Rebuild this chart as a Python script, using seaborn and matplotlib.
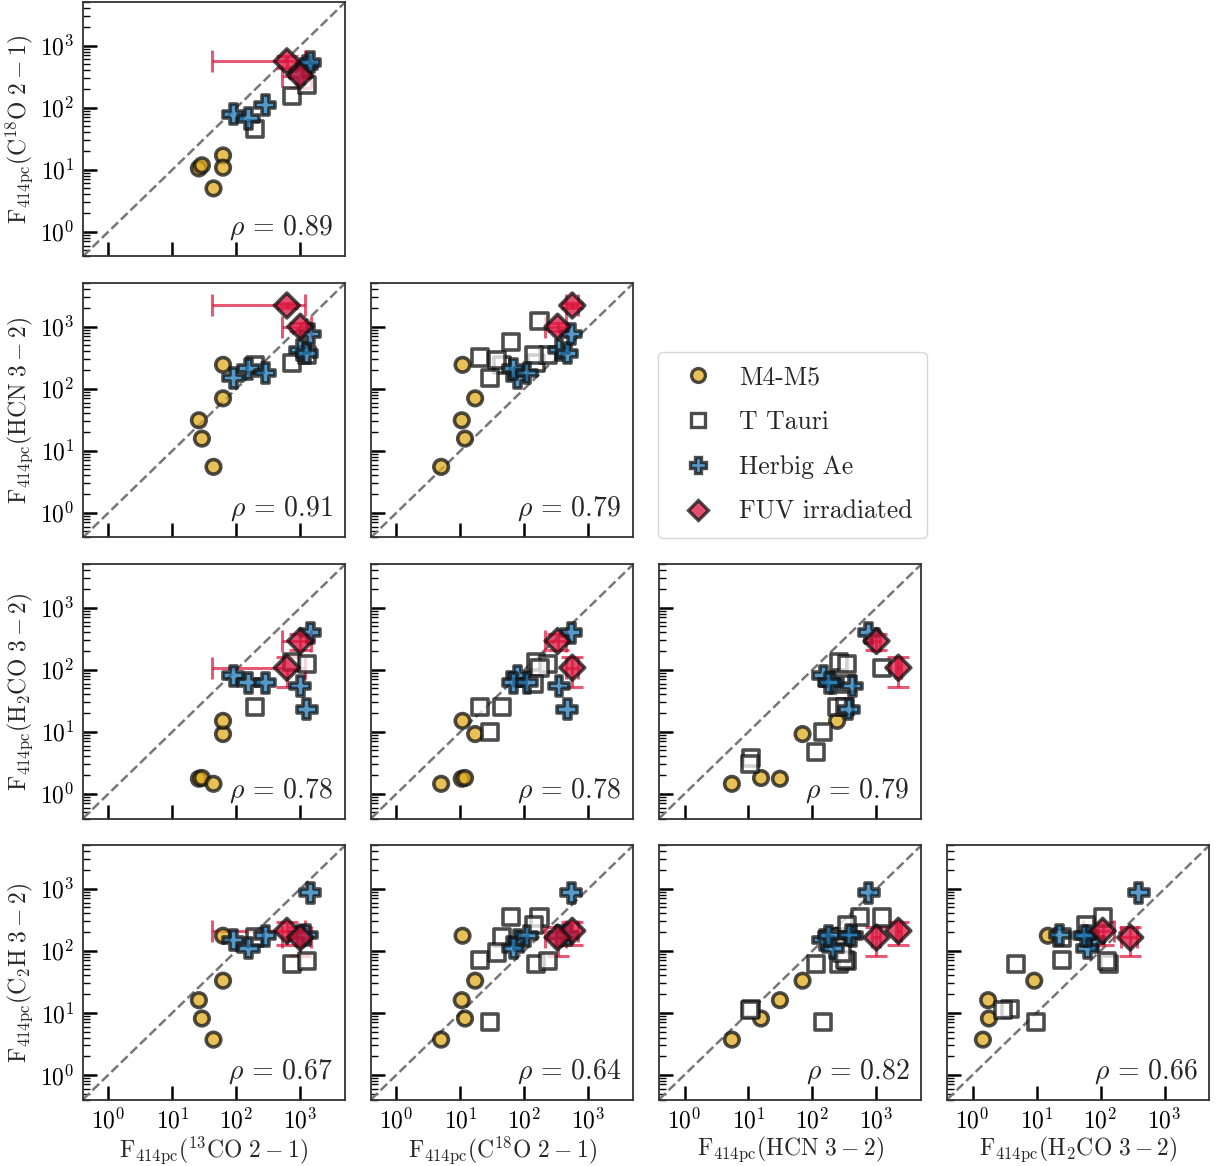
import numpy as np
import pandas as pd
import matplotlib
matplotlib.use("Agg")
import matplotlib.pyplot as plt
from matplotlib.lines import Line2D
from matplotlib.ticker import LogLocator, NullFormatter, FixedLocator, FixedFormatter
import seaborn as sns

# ---- line fluxes scaled to 414 pc (one entry per source) ----
line_keys = ["13co", "c18o", "hcn", "h2co", "c2h"]
axis_labels = [
    r"$\mathrm{F}_{414\mathrm{pc}}({}^{13}\mathrm{CO}\ 2-1)$",
    r"$\mathrm{F}_{414\mathrm{pc}}(\mathrm{C}^{18}\mathrm{O}\ 2-1)$",
    r"$\mathrm{F}_{414\mathrm{pc}}(\mathrm{HCN}\ 3-2)$",
    r"$\mathrm{F}_{414\mathrm{pc}}(\mathrm{H}_2\mathrm{CO}\ 3-2)$",
    r"$\mathrm{F}_{414\mathrm{pc}}(\mathrm{C}_2\mathrm{H}\ 3-2)$",
]
tick_values = [1, 10, 100, 1000]
tick_labels = [r"$10^{0}$", r"$10^{1}$", r"$10^{2}$", r"$10^{3}$"]

groups = ["M4-M5", "T Tauri", "Herbig Ae", "FUV irradiated"]

# M4-M5 stars
m45_13co = [62, 62, 26, 29, 44]
m45_c18o = [17, 10.8, 10.5, 11.8, 5.0]
m45_hcn = [70, 243, 31, 15.7, 5.5]
m45_h2co = [9.2, 15, 1.75, 1.8, 1.45]
m45_c2h = [33, 175, 16, 8.1, 3.7]

# T Tauri stars
nan = np.nan
tt_13co = [197, 740, 1260, nan, nan, nan, nan, nan, nan, nan, nan, nan]
tt_c18o = [45, 153, 236, nan, nan, 29, nan, 20, 37, 62, 172, 140]
tt_hcn = [245, 259, 350, 11, 10.5, 147, 113, 319, 293, 560, 1240, 350]
tt_h2co = [25, 135, 125, 3.8, 3.0, 9.8, 4.8, 25, nan, nan, 108, 59]
tt_c2h = [164, 62, 68, 11.5, 11, 7.1, 62, 70, 94, 355, 344, 260]

# Herbig Ae stars
hae_13co = [90, 155, 283, 1000, 1260, 1430]
hae_c18o = [78, 67, 110, 346, 468, 540]
hae_hcn = [149, 210, 179, 420, 374, 760]
hae_h2co = [80, 62, 62, 55, 23, 395]
hae_c2h = [150, 110, 175, 175, 180, 865]

# FUV irradiated discs, with 1-sigma uncertainties
fuv_13co = [617, 1000]
fuv_c18o = [560, 330]
fuv_hcn = [2200, 1000]
fuv_h2co = [108, 291]
fuv_c2h = [210, 164]
fuv_13co_err = [575, 480]
fuv_c18o_err = [120, 120]
fuv_hcn_err = [200, 150]
fuv_h2co_err = [55, 85]
fuv_c2h_err = [85, 80]

# Spearman coefficients for each (row, col) panel
rho_values = {
    (0, 0): 0.89,
    (1, 0): 0.91, (1, 1): 0.79,
    (2, 0): 0.78, (2, 1): 0.78, (2, 2): 0.79,
    (3, 0): 0.67, (3, 1): 0.64, (3, 2): 0.82, (3, 3): 0.66,
}

def group_frame(name, cols):
    d = dict(zip(line_keys, cols))
    d["group"] = name
    return pd.DataFrame(d)

df = pd.concat([
    group_frame("M4-M5", [m45_13co, m45_c18o, m45_hcn, m45_h2co, m45_c2h]),
    group_frame("T Tauri", [tt_13co, tt_c18o, tt_hcn, tt_h2co, tt_c2h]),
    group_frame("Herbig Ae", [hae_13co, hae_c18o, hae_hcn, hae_h2co, hae_c2h]),
    group_frame("FUV irradiated", [fuv_13co, fuv_c18o, fuv_hcn, fuv_h2co, fuv_c2h]),
], ignore_index=True)

fuv_err = dict(zip(line_keys, [fuv_13co_err, fuv_c18o_err, fuv_hcn_err,
                               fuv_h2co_err, fuv_c2h_err]))

# ---- style ----
sns.set_theme(style="white")
plt.rcParams["font.family"] = ["cmr10", "DejaVu Serif"]
plt.rcParams["mathtext.fontset"] = "cm"
plt.rcParams["axes.unicode_minus"] = False
plt.rcParams["axes.formatter.use_mathtext"] = True

palette = {"M4-M5": "#E0AB20", "T Tauri": "white",
           "Herbig Ae": "#1f77b4", "FUV irradiated": "crimson"}
markers = {"M4-M5": "o", "T Tauri": "s", "Herbig Ae": "P", "FUV irradiated": "D"}
sizes = {"M4-M5": 110, "T Tauri": 135, "Herbig Ae": 210, "FUV irradiated": 160}
edge = "#111111"
alpha = 0.75
lim = (0.4, 5000)

fig = plt.figure(figsize=(12.19, 11.66), dpi=100)
gs = fig.add_gridspec(4, 4, left=0.068, right=0.992, top=0.998, bottom=0.057,
                      wspace=0.099, hspace=0.106)

for r in range(4):
    for c in range(r + 1):
        ax = fig.add_subplot(gs[r, c])
        xk = line_keys[c]
        yk = line_keys[r + 1]
        ax.set_xscale("log")
        ax.set_yscale("log")
        ax.set_xlim(*lim)
        ax.set_ylim(*lim)
        ax.plot(lim, lim, ls="--", color="#777777", lw=1.8, zorder=1)

        fx = np.array(df.loc[df.group == "FUV irradiated", xk], dtype=float)
        fy = np.array(df.loc[df.group == "FUV irradiated", yk], dtype=float)
        ax.errorbar(fx, fy, xerr=fuv_err[xk], yerr=fuv_err[yk], fmt="none",
                    ecolor="crimson", alpha=0.7, elinewidth=2.2, capsize=8,
                    capthick=2.2, zorder=2)

        sns.scatterplot(data=df, x=xk, y=yk, hue="group", style="group",
                        size="group", hue_order=groups, style_order=groups,
                        size_order=groups, palette=palette, markers=markers,
                        sizes=sizes, edgecolor=edge, linewidth=2.6,
                        alpha=alpha, legend=False, ax=ax, zorder=3)

        ax.text(0.955, 0.055, r"$\rho\,=\,%.2f$" % rho_values[(r, c)],
                transform=ax.transAxes, ha="right", va="bottom", fontsize=20)

        ax.xaxis.set_major_locator(FixedLocator(tick_values))
        ax.yaxis.set_major_locator(FixedLocator(tick_values))
        ax.xaxis.set_minor_locator(LogLocator(base=10, subs=np.arange(2, 10)))
        ax.yaxis.set_minor_locator(LogLocator(base=10, subs=np.arange(2, 10)))
        ax.xaxis.set_minor_formatter(NullFormatter())
        ax.yaxis.set_minor_formatter(NullFormatter())
        ax.tick_params(which="major", direction="in", length=10, width=1.8,
                       left=True, bottom=True, top=False, right=False,
                       labelsize=17, colors="black", pad=6)
        ax.tick_params(which="minor", direction="in", length=5, width=1.0,
                       left=True, bottom=True, top=False, right=False,
                       colors="black")
        for s in ax.spines.values():
            s.set_color("#333333")
            s.set_linewidth(1.3)

        if r == 3:
            ax.xaxis.set_major_formatter(FixedFormatter(tick_labels))
            ax.set_xlabel(axis_labels[c], fontsize=17, labelpad=1)
        else:
            ax.set_xticklabels([])
            ax.set_xlabel("")
        if c == 0:
            ax.yaxis.set_major_formatter(FixedFormatter(tick_labels))
            ax.set_ylabel(axis_labels[r + 1], fontsize=17, labelpad=4)
        else:
            ax.set_yticklabels([])
            ax.set_ylabel("")

handles = [
    Line2D([], [], ls="none", marker=markers[g], markersize=ms,
           markerfacecolor=palette[g], markeredgecolor=edge,
           markeredgewidth=2.4, alpha=alpha)
    for g, ms in zip(groups, [10, 10.5, 12, 10.5])
]
fig.legend(handles, groups, loc="lower left",
           bbox_to_anchor=(658 / 1219, 1 - 538 / 1166), borderaxespad=0,
           fontsize=18.5, frameon=True, fancybox=True, edgecolor="#cccccc",
           labelspacing=0.82, handletextpad=0.6, borderpad=0.55)

fig.savefig("out.png", dpi=100)
